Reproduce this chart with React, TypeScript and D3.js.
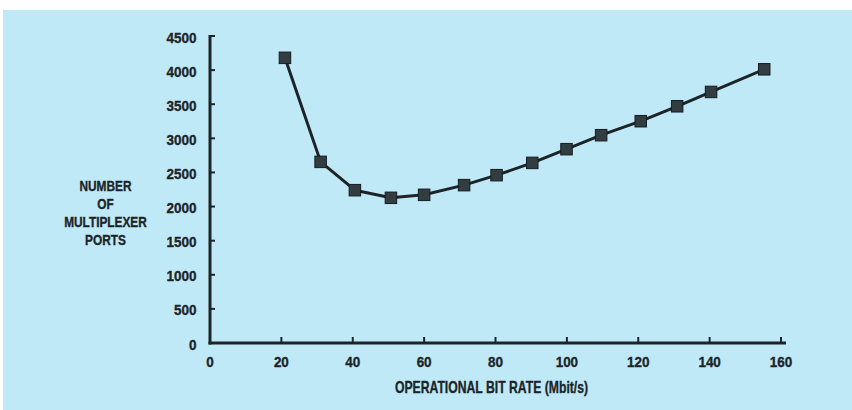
import React from "react";
import * as d3 from "d3";

const bitRates = [21, 31, 40.6, 50.7, 60, 71.2, 80.3, 90.3, 99.9, 109.6, 120.7, 130.9, 140.4, 155.3];
const ports = [4180, 2655, 2240, 2128, 2172, 2314, 2460, 2640, 2841, 3046, 3251, 3470, 3680, 4012];
const xTicks = [0, 20, 40, 60, 80, 100, 120, 140, 160];
const yTicks = [0, 500, 1000, 1500, 2000, 2500, 3000, 3500, 4000, 4500];
const yTitleLines = ["NUMBER", "OF", "MULTIPLEXER", "PORTS"];
const xTitle = "OPERATIONAL BIT RATE (Mbit/s)";

const W = 852;
const H = 410;
const BG = "#bfe9f7";
const INK = "#1c2428";
const FONT = "'Liberation Sans', Arial, sans-serif";

export default function App() {
  const x = d3.scaleLinear().domain([0, 160]).range([210, 781]);
  const y = d3.scaleLinear().domain([0, 4500]).range([343, 36]);
  const data = bitRates.map((b, i) => ({ b, p: ports[i] }));
  const line = d3
    .line<{ b: number; p: number }>()
    .x((d) => x(d.b))
    .y((d) => y(d.p));
  const x0 = x(0);
  const y0 = y(0);
  const yLineBase = [191, 209, 227, 245];
  const digitScale = 0.87;
  const sq = 11.5;
  const textProps = {
    fontWeight: "bold" as const,
    fill: INK,
    stroke: INK,
    strokeWidth: 0.35,
  };

  return (
    <svg
      width={W}
      height={H}
      style={{ position: "absolute", left: 0, top: 0, display: "block" }}
      fontFamily={FONT}
    >
      <rect x={0} y={0} width={W} height={H} fill="#ffffff" />
      <rect x={3} y={10} width={W - 3} height={H - 10} fill={BG} />

      {/* Y axis */}
      <line x1={x0} x2={x0} y1={y0 + 1.5} y2={y(4500) - 1} stroke={INK} strokeWidth={3} />
      {yTicks
        .filter((t) => t > 0)
        .map((t) => (
          <line key={"yt" + t} x1={x0} x2={x0 + 5} y1={y(t)} y2={y(t)} stroke={INK} strokeWidth={2} />
        ))}
      {yTicks.map((t) => (
        <text
          key={"yl" + t}
          transform={`translate(196.5,${y(t) + 6.5}) scale(${digitScale},1)`}
          textAnchor="end"
          fontSize={15.5}
          {...textProps}
        >
          {t}
        </text>
      ))}

      {/* X axis */}
      <line x1={x0 - 1.5} x2={786} y1={y0} y2={y0} stroke={INK} strokeWidth={3} />
      {xTicks
        .filter((t) => t > 0)
        .map((t) => (
          <line key={"xt" + t} x1={x(t)} x2={x(t)} y1={y0} y2={y0 - 6} stroke={INK} strokeWidth={2} />
        ))}
      {xTicks.map((t) => (
        <text
          key={"xl" + t}
          transform={`translate(${x(t)},366.5) scale(${digitScale},1)`}
          textAnchor="middle"
          fontSize={15.5}
          {...textProps}
        >
          {t}
        </text>
      ))}

      {/* Axis titles */}
      <text
        transform={`translate(491.5,393) scale(0.74,1)`}
        textAnchor="middle"
        fontSize={16.5}
        {...textProps}
      >
        {xTitle}
      </text>
      {yTitleLines.map((s, i) => (
        <text
          key={"yt" + s}
          transform={`translate(105.5,${yLineBase[i]}) scale(0.79,1)`}
          textAnchor="middle"
          fontSize={15}
          {...textProps}
        >
          {s}
        </text>
      ))}

      {/* Series */}
      <path d={line(data) || ""} fill="none" stroke={INK} strokeWidth={3} strokeLinejoin="round" />
      {data.map((d, i) => (
        <rect
          key={"m" + i}
          x={x(d.b) - sq / 2}
          y={y(d.p) - sq / 2}
          width={sq}
          height={sq}
          fill="#323d42"
          stroke="#151c1f"
          strokeWidth={1}
        />
      ))}
    </svg>
  );
}
